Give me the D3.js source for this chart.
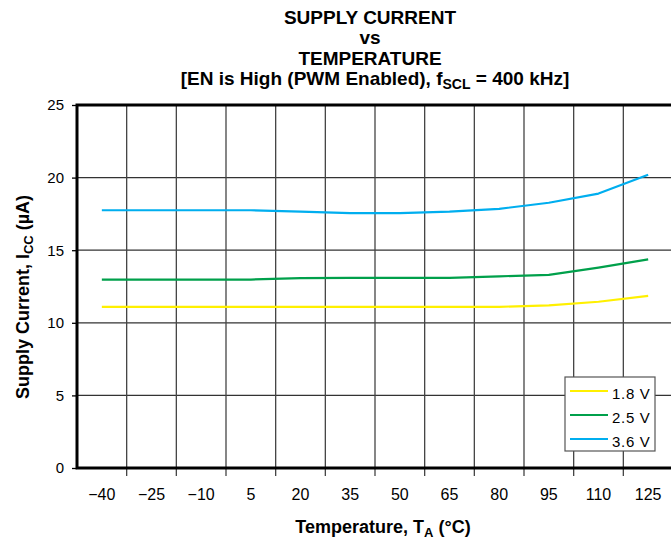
<!DOCTYPE html>
<html><head><meta charset="utf-8">
<script src="https://cdn.jsdelivr.net/npm/d3@7"></script>
<style>
body{margin:0;background:#fff;}
svg{display:block;font-family:"Liberation Sans",Arial,Helvetica,sans-serif;}
</style></head>
<body>
<svg id="chart" width="671" height="540"></svg>
<script>
const temperatures = [-40, -25, -10, 5, 20, 35, 50, 65, 80, 95, 110, 125];
const v18 = [11.1, 11.1, 11.1, 11.1, 11.1, 11.1, 11.1, 11.1, 11.1, 11.2, 11.45, 11.85];
const v25 = [12.98, 12.98, 12.98, 12.98, 13.08, 13.1, 13.1, 13.1, 13.2, 13.3, 13.8, 14.37];
const v36 = [17.75, 17.75, 17.75, 17.75, 17.65, 17.55, 17.55, 17.65, 17.85, 18.27, 18.9, 20.2];
const seriesNames = ["1.8 V", "2.5 V", "3.6 V"];
const seriesColors = ["#fff000", "#00a04b", "#00aeef"];
const yTicks = [0, 5, 10, 15, 20, 25];

const series = [v18, v25, v36];
const svg = d3.select("#chart");
const L = 77, R = 673, T = 105, B = 468;
const FF = "Liberation Sans, Arial, sans-serif";

const x = d3.scaleBand().domain(temperatures).range([L, R]).padding(0);
const y = d3.scaleLinear().domain([0, 25]).range([B, T]);

// horizontal grid
svg.append("g").selectAll("line").data(yTicks.filter(d => d > 0 && d < 25)).join("line")
  .attr("x1", L).attr("x2", R).attr("y1", d => y(d)).attr("y2", d => y(d))
  .attr("stroke", "#333").attr("stroke-width", 1.3);

// vertical grid at band boundaries
const bounds = temperatures.slice(1).map(t => x(t));
svg.append("g").selectAll("line").data(bounds).join("line")
  .attr("x1", d => d).attr("x2", d => d).attr("y1", T).attr("y2", B)
  .attr("stroke", "#444").attr("stroke-width", 1.3);
// x ticks below axis
svg.append("g").selectAll("line").data(bounds).join("line")
  .attr("x1", d => d).attr("x2", d => d).attr("y1", B).attr("y2", B + 8)
  .attr("stroke", "#444").attr("stroke-width", 1.3);

// x labels
const xAxis = svg.append("g").attr("transform", `translate(0,${B})`)
  .call(d3.axisBottom(x).tickSize(0).tickPadding(20.5).tickFormat(d => d < 0 ? "\u2212" + Math.abs(d) : d));
xAxis.select(".domain").remove();
xAxis.selectAll("text").attr("font-size", 16).attr("fill", "#000").attr("font-family", FF);

// y axis
const yAxis = svg.append("g").attr("transform", `translate(${L},0)`)
  .call(d3.axisLeft(y).tickValues(yTicks).tickSize(5).tickPadding(8));
yAxis.select(".domain").remove();
yAxis.selectAll("line").attr("stroke", "#000").attr("stroke-width", 1.3);
yAxis.selectAll("text").attr("font-size", 15).attr("fill", "#000").attr("font-family", FF);

// frame
svg.append("rect").attr("x", L).attr("y", T).attr("width", R - L).attr("height", B - T)
  .attr("fill", "none").attr("stroke", "#000").attr("stroke-width", 3);

// lines
const line = d3.line().x((d, i) => x(temperatures[i]) + x.bandwidth() / 2).y(d => y(d)).curve(d3.curveLinear);
series.forEach((s, k) => {
  svg.append("path").datum(s).attr("d", line)
    .attr("fill", "none").attr("stroke", seriesColors[k]).attr("stroke-width", 2.2)
    .attr("stroke-linejoin", "round");
});

// legend
const lg = svg.append("g");
lg.append("rect").attr("x", 565).attr("y", 377).attr("width", 90).attr("height", 74)
  .attr("fill", "#fff").attr("stroke", "#555").attr("stroke-width", 1.2);
seriesNames.forEach((n, k) => {
  const yy = 391 + k * 24;
  lg.append("line").attr("x1", 570).attr("x2", 608).attr("y1", yy).attr("y2", yy)
    .attr("stroke", seriesColors[k]).attr("stroke-width", 2);
  lg.append("text").attr("x", 612).attr("y", yy + 7.5).attr("font-size", 15)
    .attr("letter-spacing", 0.7).text(n);
});

// title
const title = svg.append("text").attr("text-anchor", "middle").attr("font-weight", "bold").attr("font-size", 19);
title.append("tspan").attr("x", 370).attr("y", 24).text("SUPPLY CURRENT");
title.append("tspan").attr("x", 370).attr("y", 44).text("vs");
title.append("tspan").attr("x", 370).attr("y", 65).text("TEMPERATURE");
const t4 = svg.append("text").attr("text-anchor", "middle").attr("font-weight", "bold").attr("font-size", 19)
  .attr("x", 375).attr("y", 85);
t4.append("tspan").text("[EN is High (PWM Enabled), f");
t4.append("tspan").attr("font-size", 14).attr("dy", 4).text("SCL");
t4.append("tspan").attr("dy", -4).text(" = 400 kHz]");

// y label
const yl = svg.append("text").attr("text-anchor", "middle").attr("font-weight", "bold").attr("font-size", 18)
  .attr("transform", "translate(29,297) rotate(-90)");
yl.append("tspan").text("Supply Current, I");
yl.append("tspan").attr("font-size", 13).attr("dy", 4).text("CC");
yl.append("tspan").attr("dy", -4).text(" (\u00b5A)");

// x label
const xl = svg.append("text").attr("text-anchor", "middle").attr("font-weight", "bold").attr("font-size", 18)
  .attr("x", 383).attr("y", 533);
xl.append("tspan").text("Temperature, T");
xl.append("tspan").attr("font-size", 13).attr("dy", 4).text("A");
xl.append("tspan").attr("dy", -4).text(" (\u00b0C)");
</script>
</body></html>
